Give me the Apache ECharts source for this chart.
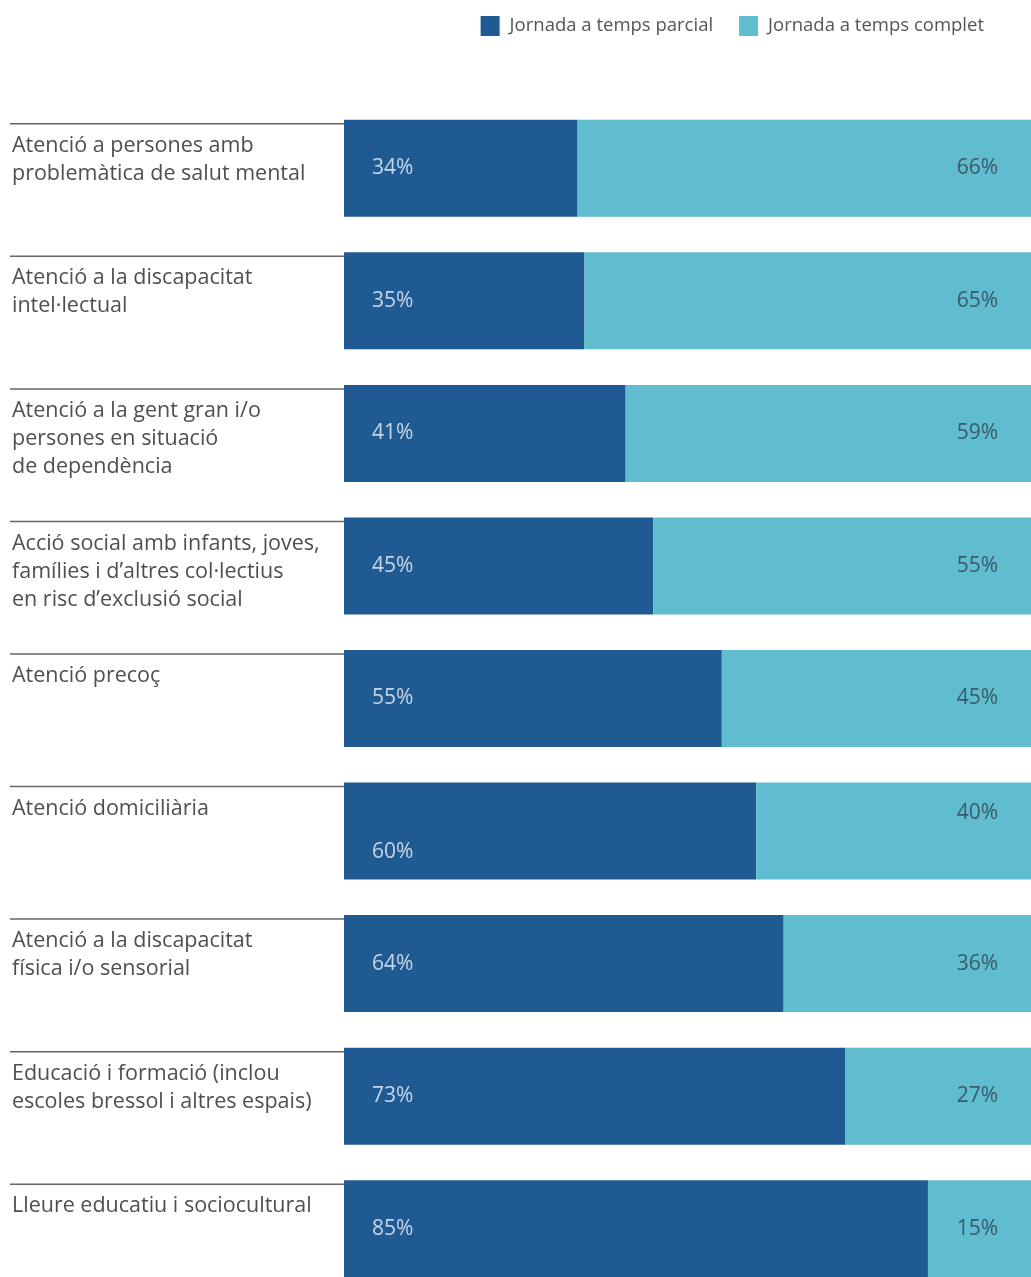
<!DOCTYPE html>
<html>
<head>
<meta charset="utf-8">
<script src="https://cdn.jsdelivr.net/npm/echarts@6/dist/echarts.min.js"></script>
<style>
  html, body { margin: 0; padding: 0; background: #ffffff; overflow: hidden; }
  /* the last row runs past the bottom edge of the page */
  #chart { width: 1031px; height: 1300px; }
</style>
</head>
<body>
<div id="chart"></div>
<script>
// Sectors of activity, top to bottom
const categories = [
  'Atenció a persones amb\nproblemàtica de salut mental',
  'Atenció a la discapacitat\nintel·lectual',
  'Atenció a la gent gran i/o\npersones en situació\nde dependència',
  'Acció social amb infants, joves,\nfamílies i d’altres col·lectius\nen risc d’exclusió social',
  'Atenció precoç',
  'Atenció domiciliària',
  'Atenció a la discapacitat\nfísica i/o sensorial',
  'Educació i formació (inclou\nescoles bressol i altres espais)',
  'Lleure educatiu i sociocultural'
];
// Share of part-time and full-time working day (%)
const partTime = [34, 35, 41, 45, 55, 60, 64, 73, 85];
const fullTime = [66, 65, 59, 55, 45, 40, 36, 27, 15];
const seriesNames = ['Jornada a temps parcial', 'Jornada a temps complet'];

const DARK = '#1f5a93';
const LIGHT = '#5fbdcf';
const BAR_H = 97;
const GRID_LEFT = 344;

const chart = echarts.init(document.getElementById('chart'), null, { renderer: 'canvas' });

// The "Atenció domiciliària" row has its two value labels staggered vertically
function withOffset(values, dy) {
  return values.map((v, i) => i === 5 ? { value: v, label: { offset: [0, dy] } } : v);
}

chart.setOption({
  animation: false,
  backgroundColor: '#ffffff',
  textStyle: { fontFamily: 'Open Sans' },
  legend: {
    top: 11,
    right: 42,
    itemWidth: 19,
    itemHeight: 20,
    itemGap: 26,
    icon: 'rect',
    textStyle: { color: '#555', fontSize: 18.5, fontFamily: 'Open Sans', padding: [0, 0, 0, 5] },
    data: seriesNames
  },
  grid: { left: GRID_LEFT, top: 102, width: 690, height: 1193, containLabel: false },
  xAxis: {
    type: 'value', min: 0, max: 100, show: false
  },
  yAxis: {
    type: 'category', data: categories, inverse: true,
    axisLine: { show: false }, axisTick: { show: false }, axisLabel: { show: false }
  },
  series: [
    {
      name: seriesNames[0], type: 'bar', stack: 'total', barWidth: BAR_H,
      itemStyle: { color: DARK },
      label: {
        show: true, position: 'insideLeft', distance: 28,
        formatter: '{c}%', color: '#c8d5e6', fontSize: 21, fontFamily: 'Open Sans'
      },
      data: withOffset(partTime, 21)
    },
    {
      name: seriesNames[1], type: 'bar', stack: 'total', barWidth: BAR_H,
      itemStyle: { color: LIGHT },
      label: {
        show: true, position: 'insideRight', distance: 33,
        formatter: '{c}%', color: '#3a5a6a', fontSize: 21, fontFamily: 'Open Sans'
      },
      data: withOffset(fullTime, -18)
    },
    {
      // Separator rule and sector name to the left of each bar
      type: 'custom', clip: false, silent: true,
      encode: { x: 0, y: 1 },
      data: categories.map((c, i) => [0, i]),
      renderItem: function (params, api) {
        const idx = api.value(1);
        const pt = api.coord([0, idx]);
        const top = pt[1] - BAR_H / 2 + 4;
        return {
          type: 'group',
          children: [
            {
              type: 'line',
              shape: { x1: 10, y1: top, x2: pt[0], y2: top },
              style: { stroke: '#666', lineWidth: 1.5 }
            },
            {
              type: 'text',
              x: 12, y: top + 8,
              style: {
                text: categories[idx],
                fill: '#4f4f4f',
                fontSize: 21.5,
                lineHeight: 28,
                fontFamily: 'Open Sans',
                align: 'left',
                verticalAlign: 'top'
              }
            }
          ]
        };
      }
    }
  ]
});
</script>
</body>
</html>
